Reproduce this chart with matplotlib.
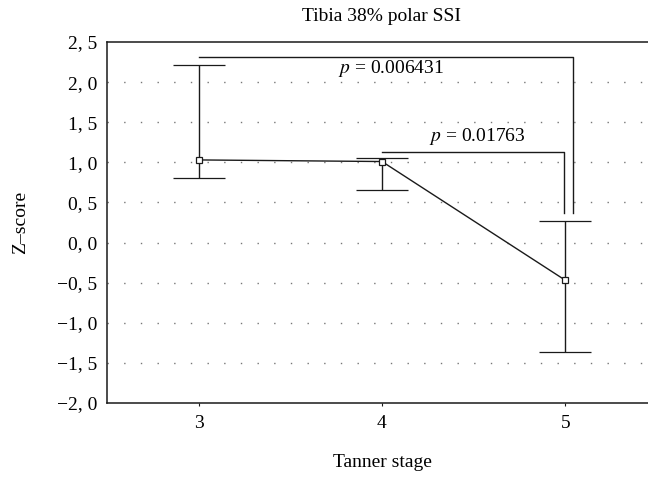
import numpy as np
import matplotlib
matplotlib.use("Agg")
import matplotlib.pyplot as plt
from matplotlib.ticker import FuncFormatter

plt.rcParams["font.family"] = ["Liberation Serif", "DejaVu Serif"]
plt.rcParams["mathtext.fontset"] = "stix"

# data
stage = [3, 4, 5]
mean = [1.03, 1.01, -0.47]
upper = [2.21, 1.055, 0.27]
lower = [0.80, 0.66, -1.37]
yticks = [-2.0, -1.5, -1.0, -0.5, 0.0, 0.5, 1.0, 1.5, 2.0, 2.5]
p_big, p_small = "0.006431", "0.01763"

FS = 14

fig = plt.figure(figsize=(6.48, 4.79), dpi=100)
# axes right edge runs past the figure edge (cropped like the original)
ax = fig.add_axes([107/648, 1 - 403/479, 550/648, 361/479])

ax.set_xlim(2.5, 5.5)
ax.set_ylim(-2.0, 2.5)

for y in yticks[1:-1]:
    ax.axhline(y, color="#777777", lw=1.0, ls=(0, (1, 11)), zorder=0)

m = np.array(mean)
err = [m - np.array(lower), np.array(upper) - m]
ax.errorbar(stage, mean, yerr=err, color="#1a1a1a", lw=1.0, elinewidth=1.0,
            capsize=18.5, capthick=1.0, marker="s", ms=5, mfc="white",
            mec="#1a1a1a", mew=0.9, zorder=3)

# significance brackets
ax.plot([3, 5.04, 5.04], [2.31, 2.31, 0.37], color="#1a1a1a", lw=1.0)
ax.plot([4, 4.99, 4.99], [1.125, 1.125, 0.365], color="#1a1a1a", lw=1.0)
ax.text(4.05, 2.17, f"$p$ = {p_big}", ha="center", va="center", fontsize=FS)
ax.text(4.52, 1.32, f"$p$ = {p_small}", ha="center", va="center", fontsize=FS)

ax.set_xticks(stage)
ax.set_yticks(yticks)
ax.yaxis.set_major_formatter(FuncFormatter(
    lambda v, _: ("\u2212" if v < -1e-9 else "") + f"{abs(v):.1f}".replace(".", ", ")))
ax.tick_params(axis="both", labelsize=FS, length=2.5, width=0.8, color="#1a1a1a")
ax.tick_params(axis="y", length=0, pad=7)
ax.tick_params(axis="x", pad=6)

for s in ["left", "bottom", "top"]:
    ax.spines[s].set_linewidth(1.1)
    ax.spines[s].set_color("#1a1a1a")
ax.spines["right"].set_visible(False)

ax.set_title("Tibia 38% polar SSI", fontsize=FS, pad=15)
ax.set_xlabel("Tanner stage", fontsize=FS, labelpad=16)
ax.set_ylabel("Z\u2013score", fontsize=FS, labelpad=20)

fig.savefig("out.png", dpi=100)
